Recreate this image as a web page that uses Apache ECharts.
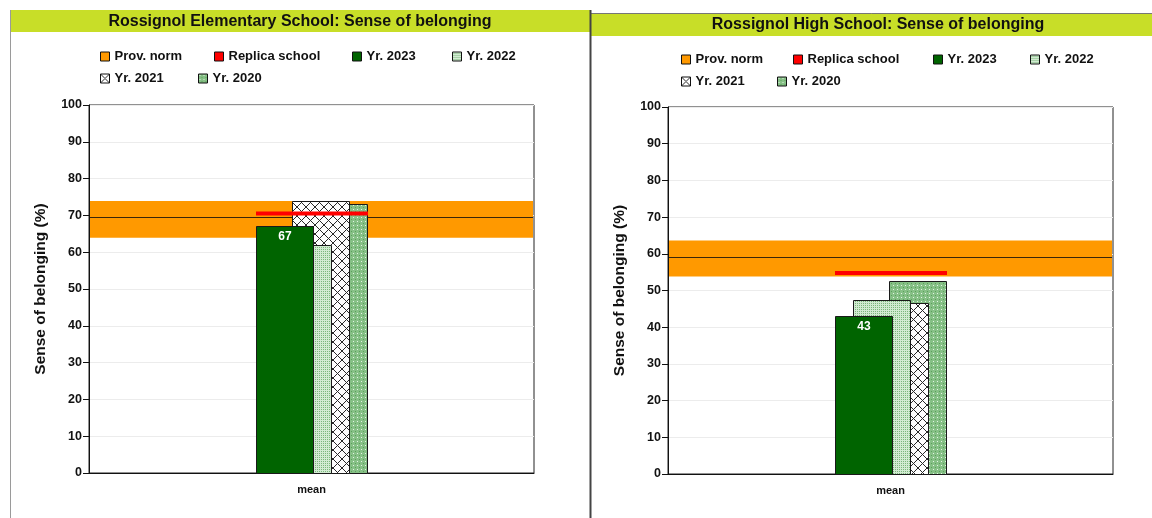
<!DOCTYPE html>
<html>
<head>
<meta charset="utf-8">
<script src="https://cdn.jsdelivr.net/npm/echarts@6/dist/echarts.min.js"></script>
<style>
  html, body { margin: 0; padding: 0; background: #ffffff; }
  #chart { width: 1152px; height: 518px; }
</style>
</head>
<body>
<div id="chart"></div>
<script>
// ---- data ----
const categories = ['mean'];
const yearNames = ['Yr. 2023', 'Yr. 2022', 'Yr. 2021', 'Yr. 2020'];
const elementaryYears = [67, 62, 74, 73];
const highYears = [43, 47.5, 46.7, 52.6];
// provincial norm: low, mean, high
const elementaryNorm = [63.9, 69.5, 73.9];
const highNorm = [53.8, 59.1, 63.6];
const elementaryReplica = [70.5];
const highReplica = [54.8];
const panelTitles = [
  'Rossignol Elementary School: Sense of belonging',
  'Rossignol High School: Sense of belonging'
];
const yAxisTitle = 'Sense of belonging (%)';
const normName = 'Prov. norm';
const replicaName = 'Replica school';

// ---- styling helpers ----
const FONT = 'Liberation Sans, Arial, Helvetica, sans-serif';

function tile(w, h, draw) {
  const c = document.createElement('canvas');
  c.width = w; c.height = h;
  draw(c.getContext('2d'));
  return { image: c, repeat: 'repeat' };
}
const fills = {
  'Yr. 2023': '#006400',
  'Yr. 2022': tile(2, 2, g => {
    g.fillStyle = '#d2ebd2'; g.fillRect(0, 0, 2, 2);
    g.fillStyle = '#7cb77c'; g.fillRect(1, 1, 1, 1);
  }),
  'Yr. 2021': tile(9, 9, g => {
    g.fillStyle = '#ffffff'; g.fillRect(0, 0, 9, 9);
    g.fillStyle = '#2a2a2a';
    for (let i = 0; i < 9; i++) { g.fillRect(i, i, 1, 1); g.fillRect(8 - i, i, 1, 1); }
  }),
  'Yr. 2020': tile(4, 4, g => {
    g.fillStyle = '#86c086'; g.fillRect(0, 0, 4, 4);
    g.fillStyle = '#e4f4e4'; g.fillRect(1, 1, 1, 1);
    g.fillStyle = '#5aa05a'; g.fillRect(3, 3, 1, 1);
  })
};
const NORM_COLOR = '#ff9900';
const REPLICA_COLOR = '#ff0000';

// bar group geometry (pixels)
const BAR_W = 57, STEP = 18, GROUP_W = BAR_W + STEP * 3;

function barRenderer(slot, fill, withLabel) {
  return function (params, api) {
    const base = api.coord([api.value(0), 0]);
    const top = api.coord([api.value(0), api.value(1)]);
    const x = Math.round(base[0] - GROUP_W / 2 + STEP * slot) + 0.5;
    const y = Math.round(top[1]) + 0.5;
    const h = Math.round(base[1]) + 0.5 - y;
    const children = [{
      type: 'rect',
      shape: { x: x, y: y, width: BAR_W, height: h },
      style: { fill: fill, stroke: '#1a1a1a', lineWidth: 1 }
    }];
    if (withLabel) {
      children.push({
        type: 'text',
        style: {
          text: String(api.value(1)),
          x: x + BAR_W / 2, y: y + 10,
          align: 'center', verticalAlign: 'middle',
          fill: '#ffffff', font: 'bold 12px ' + FONT
        }
      });
    }
    return { type: 'group', children: children };
  };
}

function normRenderer(params, api) {
  const cs = params.coordSys;
  const lo = api.coord([api.value(0), api.value(1)])[1];
  const mid = Math.round(api.coord([api.value(0), api.value(2)])[1]) + 0.5;
  const hi = api.coord([api.value(0), api.value(3)])[1];
  return {
    type: 'group',
    children: [
      { type: 'rect', shape: { x: cs.x + 1, y: hi, width: cs.width - 2, height: lo - hi },
        style: { fill: NORM_COLOR } },
      { type: 'line', shape: { x1: cs.x + 1, y1: mid, x2: cs.x + cs.width - 1, y2: mid },
        style: { stroke: '#3a2608', lineWidth: 1 } }
    ]
  };
}

function replicaRenderer(params, api) {
  const p = api.coord([api.value(0), api.value(1)]);
  const x0 = p[0] - GROUP_W / 2;
  return {
    type: 'line',
    shape: { x1: x0, y1: p[1], x2: x0 + GROUP_W + 1, y2: p[1] },
    style: { stroke: REPLICA_COLOR, lineWidth: 4 }
  };
}

// ---- panels ----
const panels = [
  { years: elementaryYears, norm: elementaryNorm, replica: elementaryReplica,
    grid: { left: 89, top: 105, width: 445, height: 368 },
    legendRows: [55, 77], legendCols: [[100, 214, 352, 452], [100, 198]],
    titleX: 300, titleY: 21.5 },
  { years: highYears, norm: highNorm, replica: highReplica,
    grid: { left: 668, top: 107, width: 445, height: 367 },
    legendRows: [58, 80], legendCols: [[681, 793, 933, 1030], [681, 777]],
    titleX: 878, titleY: 24.5 }
];

const legendOrder = [normName, replicaName].concat(yearNames);
const legendColor = name => name === normName ? NORM_COLOR : name === replicaName ? REPLICA_COLOR : fills[name];

const grids = [], xAxes = [], yAxes = [], series = [], legends = [];

panels.forEach((pnl, gi) => {
  grids.push(Object.assign({ show: true, borderColor: '#222', borderWidth: 1, backgroundColor: 'transparent' }, pnl.grid));
  xAxes.push({
    type: 'category', gridIndex: gi, data: categories, boundaryGap: true,
    axisLine: { lineStyle: { color: '#111', width: 1 } },
    axisTick: { alignWithLabel: true, length: 5, lineStyle: { color: '#111' } },
    axisLabel: { color: '#111', fontFamily: FONT, fontWeight: 'bold', fontSize: 11, margin: 11 },
    splitLine: { show: false }
  });
  yAxes.push({
    type: 'value', gridIndex: gi, min: 0, max: 100, interval: 10,
    name: yAxisTitle, nameLocation: 'middle', nameGap: 40,
    nameTextStyle: { color: '#111', fontFamily: FONT, fontWeight: 'bold', fontSize: 15.5 },
    axisLine: { show: true, lineStyle: { color: '#111', width: 1 } },
    axisTick: { show: true, length: 6, lineStyle: { color: '#111' } },
    axisLabel: { color: '#111', fontFamily: FONT, fontWeight: 'bold', fontSize: 12.5, margin: 7 },
    splitLine: { show: true, lineStyle: { color: '#ececec', width: 1 } }
  });

  series.push({
    name: normName, type: 'custom', xAxisIndex: gi, yAxisIndex: gi, z: 1,
    itemStyle: { color: NORM_COLOR },
    renderItem: normRenderer,
    encode: { x: 0, y: [1, 2, 3] },
    data: [[categories[0]].concat(pnl.norm)]
  });
  // draw back to front: 2020 behind, 2023 in front
  for (let k = yearNames.length - 1; k >= 0; k--) {
    const name = yearNames[k];
    series.push({
      name: name, type: 'custom', xAxisIndex: gi, yAxisIndex: gi, z: 3 + (yearNames.length - k),
      itemStyle: { color: fills[name] },
      renderItem: barRenderer(k, fills[name], k === 0),
      encode: { x: 0, y: 1 },
      data: [[categories[0], pnl.years[k]]]
    });
  }
  series.push({
    name: replicaName, type: 'custom', xAxisIndex: gi, yAxisIndex: gi, z: 10,
    itemStyle: { color: REPLICA_COLOR },
    renderItem: replicaRenderer,
    encode: { x: 0, y: 1 },
    data: [[categories[0], pnl.replica[0]]]
  });

  let idx = 0;
  pnl.legendCols.forEach((cols, row) => {
    cols.forEach(left => {
      const name = legendOrder[idx++];
      legends.push({
        left: left, top: pnl.legendRows[row] - 5, padding: 0, orient: 'horizontal',
        itemWidth: 9, itemHeight: 9, icon: 'rect',
        textStyle: { color: '#111', fontFamily: FONT, fontWeight: 'bold', fontSize: 13 },
        data: [{ name: name, itemStyle: { color: legendColor(name), borderColor: '#111', borderWidth: 1 } }]
      });
    });
  });
});

const titleBar = '#c8de28';
const graphics = [
  { type: 'rect', shape: { x: 10, y: 10, width: 580, height: 22 }, style: { fill: titleBar }, z: 0 },
  { type: 'rect', shape: { x: 591, y: 13, width: 561, height: 23 }, style: { fill: titleBar }, z: 0 },
  { type: 'line', shape: { x1: 591, y1: 13.5, x2: 1152, y2: 13.5 }, style: { stroke: '#777', lineWidth: 1 }, z: 1 },
  { type: 'line', shape: { x1: 10.5, y1: 10, x2: 10.5, y2: 518 }, style: { stroke: '#9a9a9a', lineWidth: 1 }, z: 1 },
  { type: 'line', shape: { x1: 590.5, y1: 10, x2: 590.5, y2: 518 }, style: { stroke: '#444', lineWidth: 2 }, z: 1 }
];
panels.forEach((pnl, gi) => {
  graphics.push({
    type: 'text', z: 2,
    style: { text: panelTitles[gi], x: pnl.titleX, y: pnl.titleY, align: 'center', verticalAlign: 'middle',
             fill: '#111', font: 'bold 16px ' + FONT }
  });
});

const chart = echarts.init(document.getElementById('chart'), null, { renderer: 'canvas', width: 1152, height: 518 });
chart.setOption({
  animation: false,
  backgroundColor: '#ffffff',
  grid: grids,
  xAxis: xAxes,
  yAxis: yAxes,
  legend: legends,
  graphic: graphics,
  series: series
});
</script>
</body>
</html>
